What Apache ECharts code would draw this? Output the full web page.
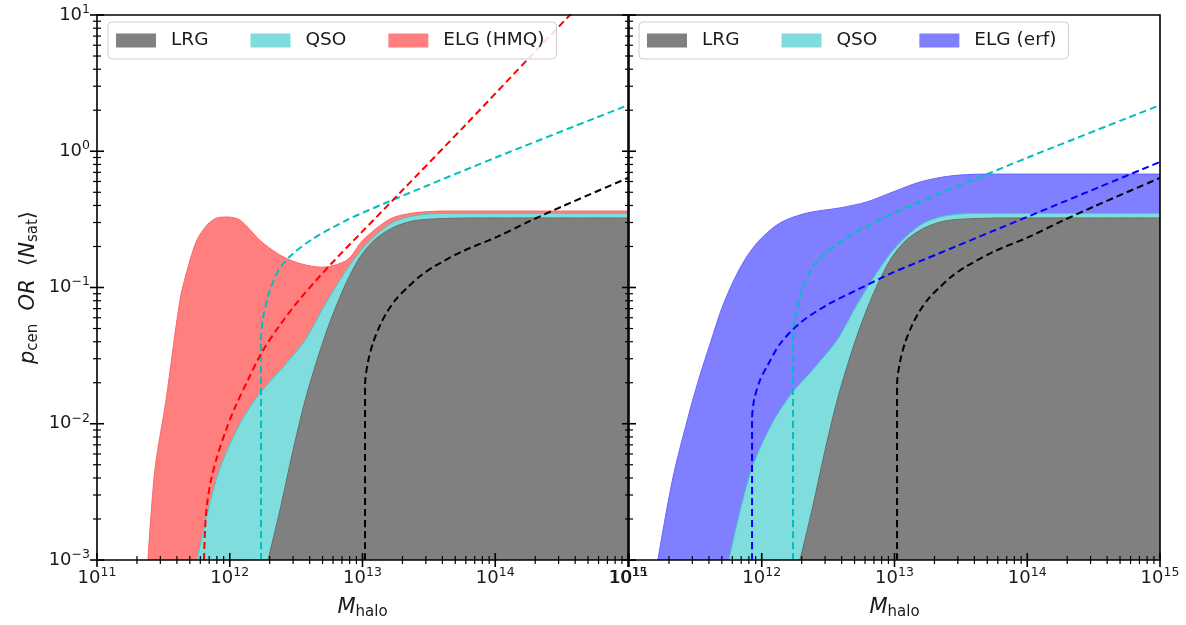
<!DOCTYPE html>
<html><head><meta charset="utf-8">
<script src="https://cdn.jsdelivr.net/npm/echarts@6/dist/echarts.min.js"></script>
<style>html,body{margin:0;padding:0;background:#fff}#c{width:1186px;height:625px}</style>
</head><body><div id="c"></div>
<script>
// ---------------- data (halo mass in Msun/h, occupation values) ----------------
const lrgM   = [1.94e12, 2.39e12, 3.0e12, 3.7e12, 4.6e12, 5.69e12, 7.4e12, 9.5e12, 1.23e13, 1.67e13, 2.40e13, 3.84e13, 7.7e13, 1e15];
const lrgP   = [1e-3, 0.00233, 0.0064, 0.0149, 0.0304, 0.0559, 0.104, 0.165, 0.223, 0.273, 0.308, 0.320, 0.324, 0.324];

const qsoM   = [5.66e11, 6.75e11, 8.45e11, 1.19e12, 1.69e12, 2.48e12, 3.7e12, 5.2e12, 7.4e12, 1.04e13, 1.61e13, 2.40e13, 4.3e13, 1e15];
const qsoP   = [1e-3, 0.00214, 0.00473, 0.00996, 0.0168, 0.0256, 0.0412, 0.0744, 0.130, 0.202, 0.292, 0.335, 0.350, 0.350];

const elgHmqM = [2.42e11, 2.73e11, 3.31e11, 4.22e11, 4.85e11, 5.66e11, 6.75e11, 8.0e11, 9.5e11, 1.19e12, 1.78e12, 2.84e12, 4.96e12, 7.64e12, 1.01e13, 1.61e13, 2.40e13, 4.3e13, 1e15];
const elgHmqP = [1e-3, 0.00458, 0.0149, 0.081, 0.141, 0.223, 0.288, 0.324, 0.329, 0.313, 0.212, 0.159, 0.141, 0.159, 0.223, 0.318, 0.352, 0.364, 0.364];

const elgErfM = [1.65e11, 2.14e11, 2.88e11, 3.43e11, 4.08e11, 5.11e11, 6.86e11, 9.2e11, 1.37e12, 2.19e12, 3.88e12, 6.2e12, 9.75e12, 1.56e13, 2.62e13, 4.8e13, 1e15];
const elgErfP = [1e-3, 0.0040, 0.0126, 0.0228, 0.0385, 0.0744, 0.139, 0.212, 0.297, 0.352, 0.384, 0.425, 0.503, 0.595, 0.658, 0.68, 0.68];

// satellites <N_sat>
const lrgSatM = [1.045e13, 1.045e13, 1.10e13, 1.20e13, 1.36e13, 1.53e13, 1.82e13, 2.16e13, 2.71e13, 3.52e13, 5.71e13, 1.03e14, 1.83e14, 3.24e14, 1e15];
const lrgSatN = [1e-3, 0.0192, 0.0284, 0.0392, 0.0531, 0.0661, 0.0837, 0.099, 0.121, 0.144, 0.185, 0.235, 0.308, 0.396, 0.637];

const qsoSatM = [1.72e12, 1.72e12, 1.78e12, 2.01e12, 2.39e12, 2.99e12, 4.24e12, 7.64e12, 1.43e13, 2.71e13, 1.09e14, 1e15];
const qsoSatN = [1e-3, 0.0412, 0.0597, 0.096, 0.139, 0.177, 0.228, 0.313, 0.410, 0.532, 0.927, 2.18];

const elgHmqSatM = [6.4e11, 6.51e11, 6.74e11, 7.22e11, 8.02e11, 9.37e11, 1.115e12, 1.37e12, 1.75e12, 2.39e12, 3.38e12, 5.69e12, 9.57e12, 1.91e13, 6.12e13, 1.92e14, 1e15];
const elgHmqSatN = [1e-3, 0.00166, 0.00254, 0.00386, 0.0057, 0.0090, 0.0137, 0.0209, 0.0336, 0.0531, 0.0824, 0.146, 0.247, 0.494, 1.6, 5.18, 28];

const elgErfSatM = [8.45e11, 8.45e11, 8.75e11, 9.7e11, 1.10e12, 1.37e12, 1.94e12, 3.10e12, 5.22e12, 9.25e12, 1.56e13, 1e15];
const elgErfSatN = [1e-3, 0.0107, 0.0149, 0.0209, 0.0265, 0.0385, 0.0548, 0.0744, 0.096, 0.126, 0.156, 0.834];

// axes / ticks
const xMin = 1e11, xMax = 1e15, yMin = 1e-3, yMax = 10;
const xMajorTicks = [1e11, 1e12, 1e13, 1e14, 1e15];
const yMajorTicks = [1e-3, 1e-2, 1e-1, 1e0, 1e1];
const minorFactors = [2, 3, 4, 5, 6, 7, 8, 9];
const legendLeft  = ['LRG', 'QSO', 'ELG (HMQ)'];
const legendRight = ['LRG', 'QSO', 'ELG (erf)'];

// ---------------- build ----------------
const FONT = 'DejaVu Sans';
const TXT = '#1a1a1a';
const zip = (a, b) => a.map((v, i) => [v, b[i]]);

function minorOf(majors) {
  const out = [];
  for (let i = 0; i < majors.length - 1; i++) minorFactors.forEach(f => out.push(majors[i] * f));
  return out;
}
function tickData() {
  const d = [];
  xMajorTicks.forEach(v => d.push([v, yMin, 0, 1]));
  minorOf(xMajorTicks).forEach(v => d.push([v, yMin, 0, 0]));
  yMajorTicks.forEach(v => d.push([xMin, v, 1, 1]));
  minorOf(yMajorTicks).forEach(v => d.push([xMin, v, 1, 0]));
  return d;
}
function renderTick(params, api) {
  const pt = api.coord([api.value(0), api.value(1)]);
  const dir = api.value(2), major = api.value(3);
  const h = major ? 7 : 4;
  const shape = dir === 0
    ? { x1: pt[0], y1: pt[1] - h, x2: pt[0], y2: pt[1] + h }
    : { x1: pt[0] - h, y1: pt[1], x2: pt[0] + h, y2: pt[1] };
  return { type: 'line', shape, style: { stroke: '#000', lineWidth: major ? 1.6 : 1.2 } };
}
function expLabel(v) {
  const e = Math.round(Math.log10(v));
  const s = e < 0 ? '\u2212' + Math.abs(e) : String(e);
  return '{b|10}{s|' + s + '}';
}
const labelRich = {
  b: { fontFamily: FONT, fontSize: 18, lineHeight: 18, color: TXT },
  s: { fontFamily: FONT, fontSize: 12.5, lineHeight: 12, padding: [0, 0, 11, 0], color: TXT }
};
const nameRich = {
  i: { fontFamily: FONT, fontStyle: 'italic', fontSize: 21, lineHeight: 25, color: TXT },
  r: { fontFamily: FONT, fontSize: 21, lineHeight: 25, color: TXT },
  sub: { fontFamily: FONT, fontSize: 15, lineHeight: 15, padding: [10, 0, 0, 0], color: TXT }
};

const fillCol = { LRG: '#808080', QSO: '#7fdedd', 'ELG (HMQ)': '#ff7f7f', 'ELG (erf)': '#7f7fff' };
const edgeCol = { LRG: '#6a6a6a', QSO: '#45c8c8', 'ELG (HMQ)': '#ff6666', 'ELG (erf)': '#6666ff' };

function fillSeries(name, M, P, idx) {
  return {
    type: 'line', name, xAxisIndex: idx, yAxisIndex: idx, data: zip(M, P),
    symbol: 'none', smooth: 0.3, silent: true, z: 2,
    itemStyle: { color: fillCol[name] },
    lineStyle: { color: edgeCol[name], width: 1 },
    areaStyle: { color: fillCol[name], opacity: 1, origin: 'start' }
  };
}
function dashSeries(color, M, N, idx) {
  return {
    type: 'line', name: '_' + color, xAxisIndex: idx, yAxisIndex: idx, data: zip(M, N),
    symbol: 'none', smooth: 0.3, silent: true, z: 3,
    lineStyle: { color, width: 2, type: [7, 4] }
  };
}

const grids = [
  { left: 97, top: 15, width: 531, height: 545, show: true, borderColor: '#000', borderWidth: 1.6, z: 10 },
  { left: 629, top: 15, width: 531, height: 545, show: true, borderColor: '#000', borderWidth: 1.6, z: 10 }
];
const xAxes = [0, 1].map(i => ({
  type: 'log', logBase: 10, gridIndex: i, min: xMin, max: xMax, interval: 1,
  axisLine: { show: false }, axisTick: { show: false }, splitLine: { show: false },
  axisLabel: { formatter: expLabel, rich: labelRich, margin: 9 },
  name: '{i|M}{sub|halo}', nameLocation: 'middle', nameGap: 32,
  nameTextStyle: { rich: nameRich }
}));
const yAxes = [0, 1].map(i => ({
  type: 'log', logBase: 10, gridIndex: i, min: yMin, max: yMax, interval: 1,
  axisLine: { show: false }, axisTick: { show: false }, splitLine: { show: false },
  axisLabel: { show: i === 0, formatter: expLabel, rich: labelRich, margin: 7 },
  name: i === 0 ? '{i|p}{sub|cen}{r|  }{i|OR}{r|  \u27e8}{i|N}{sub|sat}{r|\u27e9}' : '',
  nameLocation: 'middle', nameRotate: 90, nameGap: 56,
  nameTextStyle: { rich: nameRich }
}));

const legendCommon = {
  top: 22, orient: 'horizontal', icon: 'rect', itemWidth: 40, itemHeight: 14, itemGap: 42,
  padding: [9, 12, 9, 8], borderColor: '#cfcfcf', borderWidth: 1, borderRadius: 4,
  backgroundColor: 'rgba(255,255,255,0.85)', selectedMode: false, z: 20,
  textStyle: { fontFamily: FONT, fontSize: 18.5, color: TXT, padding: [0, 0, 0, 10] }
};

const series = [
  fillSeries('ELG (HMQ)', elgHmqM, elgHmqP, 0),
  fillSeries('QSO', qsoM, qsoP, 0),
  fillSeries('LRG', lrgM, lrgP, 0),
  dashSeries('#000000', lrgSatM, lrgSatN, 0),
  dashSeries('#00bfbf', qsoSatM, qsoSatN, 0),
  dashSeries('#ff0000', elgHmqSatM, elgHmqSatN, 0),
  fillSeries('ELG (erf)', elgErfM, elgErfP, 1),
  fillSeries('QSO', qsoM, qsoP, 1),
  fillSeries('LRG', lrgM, lrgP, 1),
  dashSeries('#000000', lrgSatM, lrgSatN, 1),
  dashSeries('#00bfbf', qsoSatM, qsoSatN, 1),
  dashSeries('#0000ff', elgErfSatM, elgErfSatN, 1),
  { type: 'custom', xAxisIndex: 0, yAxisIndex: 0, data: tickData(), renderItem: renderTick,
    encode: { x: 0, y: 1 }, silent: true, clip: false, z: 12 },
  { type: 'custom', xAxisIndex: 1, yAxisIndex: 1, data: tickData(), renderItem: renderTick,
    encode: { x: 0, y: 1 }, silent: true, clip: false, z: 12 }
];

const chart = echarts.init(document.getElementById('c'));
chart.setOption({
  animation: false,
  backgroundColor: '#ffffff',
  textStyle: { fontFamily: FONT },
  grid: grids, xAxis: xAxes, yAxis: yAxes,
  legend: [
    Object.assign({}, legendCommon, { left: 108, data: legendLeft }),
    Object.assign({}, legendCommon, { left: 639, data: legendRight })
  ],
  series
});
</script></body></html>
